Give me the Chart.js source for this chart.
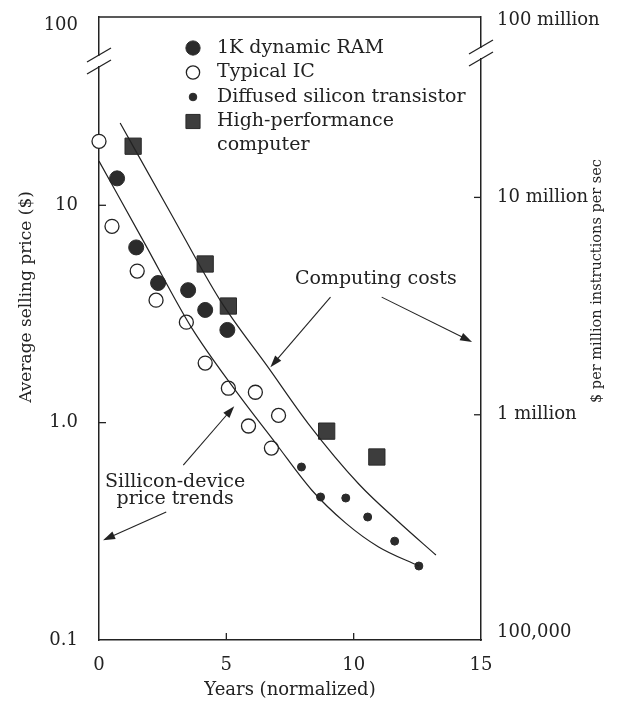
<!DOCTYPE html>
<html>
<head>
<meta charset="utf-8">
<script src="https://cdn.jsdelivr.net/npm/chart.js@4.4.1/dist/chart.umd.min.js"></script>
<style>
  html, body { margin: 0; padding: 0; background: #fff; }
</style>
</head>
<body>
<canvas id="chart" width="636" height="705"></canvas>
<script>
// values (x = normalized years, y = $)
const ramPoints = [[0.71, 13.3], [1.46, 6.4], [2.32, 4.39], [3.5, 4.07], [4.17, 3.3], [5.04, 2.67]];
const icPoints = [[0, 19.7], [0.51, 8.0], [1.5, 4.98], [2.24, 3.66], [3.43, 2.9], [4.17, 1.88],
                  [5.08, 1.44], [6.14, 1.38], [7.05, 1.08], [5.87, 0.965], [6.77, 0.764]];
const transistorPoints = [[7.95, 0.625], [8.7, 0.455], [9.69, 0.45], [10.55, 0.368], [11.61, 0.285], [12.56, 0.219]];
const computerPoints = [[1.34, 18.7], [4.17, 5.37], [5.08, 3.44], [8.94, 0.914], [10.91, 0.695]];

// the two hand-drawn trend curves
const siliconTrend = [[0, 15.97], [1.81, 6.63], [3.62, 2.75], [5.35, 1.41], [6.93, 0.806],
                      [8.35, 0.49], [9.69, 0.345], [10.98, 0.268], [12.56, 0.219]];
const computingTrend = [[0.83, 23.9], [2.8, 9.27], [4.76, 3.65], [6.65, 1.79], [8.23, 0.985],
                        [10.2, 0.522], [11.77, 0.349], [13.23, 0.246]];

// axes (top of each log axis sits past an axis break, so the "100" tick is placed just under the top)
const xTicks = [0, 5, 10, 15];
const yTicks = [0.1, 1, 10, 67.3];
const yTickLabels = ['0.1', '1.0', '10', '100'];
const y1Ticks = [1e5, 1e6, 1e7, 6.5e7];
const y1TickLabels = ['100,000', '1 million', '10 million', '100 million'];

const legendItems = [
  { text: ['1K dynamic RAM'], style: 'ram' },
  { text: ['Typical IC'], style: 'ic' },
  { text: ['Diffused silicon transistor'], style: 'dot' },
  { text: ['High-performance', 'computer'], style: 'sq' }
];

const notes = [
  { lines: ['Computing costs'], at: [10.87, 4.58] },
  { lines: ['Sillicon-device', 'price trends'], at: [2.99, 0.533] }
];
const arrows = [
  { from: [9.09, 3.78], to: [6.73, 1.8] },
  { from: [11.1, 3.78], to: [14.65, 2.35] },
  { from: [3.31, 0.638], to: [5.31, 1.19] },
  { from: [2.64, 0.388], to: [0.16, 0.288] }
];

const ink = '#222';
const serif = "'DejaVu Serif', serif";
const toXY = arr => arr.map(p => ({ x: p[0], y: p[1] }));

const markStyles = {
  ram: { pointStyle: 'circle', radius: 7.5, fill: '#2b2b2b', stroke: '#2b2b2b', bw: 1 },
  ic: { pointStyle: 'circle', radius: 7, fill: '#fff', stroke: ink, bw: 1.3 },
  dot: { pointStyle: 'circle', radius: 4, fill: '#2b2b2b', stroke: '#2b2b2b', bw: 1 },
  sq: { pointStyle: 'rect', radius: 11.5, fill: '#3d3d3d', stroke: '#2a2a2a', bw: 1 }
};

function pointSet(label, pts, key) {
  const s = markStyles[key];
  return {
    label: label,
    data: toXY(pts),
    pointStyle: s.pointStyle,
    pointRadius: s.radius,
    pointBackgroundColor: s.fill,
    pointBorderColor: s.stroke,
    pointBorderWidth: s.bw,
    showLine: false,
    clip: false
  };
}

function curveSet(label, pts) {
  return {
    label: label,
    data: toXY(pts),
    showLine: true,
    pointRadius: 0,
    borderColor: ink,
    borderWidth: 1.2,
    cubicInterpolationMode: 'monotone',
    clip: false
  };
}

function drawArrow(ctx, x1, y1, x2, y2) {
  const a = Math.atan2(y2 - y1, x2 - x1);
  ctx.beginPath();
  ctx.moveTo(x1, y1);
  ctx.lineTo(x2 - 6 * Math.cos(a), y2 - 6 * Math.sin(a));
  ctx.stroke();
  ctx.beginPath();
  ctx.moveTo(x2, y2);
  ctx.lineTo(x2 - 12 * Math.cos(a) + 4 * Math.sin(a), y2 - 12 * Math.sin(a) - 4 * Math.cos(a));
  ctx.lineTo(x2 - 12 * Math.cos(a) - 4 * Math.sin(a), y2 - 12 * Math.sin(a) + 4 * Math.cos(a));
  ctx.closePath();
  ctx.fill();
}

// "//" mark where the axis is broken
function axisBreak(ctx, x, y) {
  ctx.fillStyle = '#fff';
  ctx.fillRect(x - 3, y - 5, 6, 10);
  ctx.strokeStyle = ink;
  ctx.lineWidth = 1.3;
  [-6, 6].forEach(off => {
    ctx.beginPath();
    ctx.moveTo(x - 12, y + off + 7);
    ctx.lineTo(x + 12, y + off - 7);
    ctx.stroke();
  });
}

const decor = {
  id: 'decor',
  afterDraw(chart) {
    const { ctx, chartArea: a, scales } = chart;
    const sx = scales.x, sy = scales.y, sy1 = scales.y1;
    ctx.save();
    ctx.strokeStyle = ink;
    ctx.fillStyle = ink;

    // top frame line
    ctx.lineWidth = 1.5;
    ctx.beginPath();
    ctx.moveTo(a.left, a.top);
    ctx.lineTo(a.right, a.top);
    ctx.stroke();

    // inward tick marks
    ctx.lineWidth = 1.3;
    [5, 10].forEach(v => {
      const px = sx.getPixelForValue(v);
      ctx.beginPath(); ctx.moveTo(px, a.bottom); ctx.lineTo(px, a.bottom - 7); ctx.stroke();
    });
    [1, 10].forEach(v => {
      const py = sy.getPixelForValue(v);
      ctx.beginPath(); ctx.moveTo(a.left, py); ctx.lineTo(a.left + 7, py); ctx.stroke();
    });
    [1e6, 1e7].forEach(v => {
      const py = sy1.getPixelForValue(v);
      ctx.beginPath(); ctx.moveTo(a.right, py); ctx.lineTo(a.right - 7, py); ctx.stroke();
    });

    // axis breaks
    axisBreak(ctx, a.left, a.top + 44);
    axisBreak(ctx, a.right, a.top + 36);

    // annotations
    ctx.fillStyle = ink;
    ctx.strokeStyle = ink;
    ctx.font = '19px ' + serif;
    ctx.textAlign = 'center';
    ctx.textBaseline = 'middle';
    notes.forEach(n => {
      const px = sx.getPixelForValue(n.at[0]);
      const py = sy.getPixelForValue(n.at[1]);
      n.lines.forEach((t, i) => ctx.fillText(t, px, py + i * 17));
    });
    ctx.lineWidth = 1.1;
    arrows.forEach(r => {
      drawArrow(ctx,
        sx.getPixelForValue(r.from[0]), sy.getPixelForValue(r.from[1]),
        sx.getPixelForValue(r.to[0]), sy.getPixelForValue(r.to[1]));
    });

    // legend
    let row = a.top + 31;
    ctx.textAlign = 'left';
    legendItems.forEach(item => {
      const s = markStyles[item.style];
      ctx.fillStyle = s.fill;
      ctx.strokeStyle = s.stroke;
      ctx.lineWidth = s.bw;
      Chart.helpers.drawPoint(ctx, { pointStyle: s.pointStyle, radius: item.style === 'sq' ? 10 : s.radius * 0.95, rotation: 0, borderWidth: s.bw },
        a.left + 94, row);
      ctx.fillStyle = ink;
      item.text.forEach((t, i) => ctx.fillText(t, a.left + 118, row + i * 23.5));
      row += 24.5 + (item.text.length - 1) * 23.5;
    });

    // side titles
    ctx.fillStyle = ink;
    ctx.textAlign = 'center';
    ctx.font = '17px ' + serif;
    ctx.save();
    ctx.translate(27, 297);
    ctx.rotate(-Math.PI / 2);
    ctx.fillText('Average selling price ($)', 0, 0);
    ctx.restore();
    ctx.font = '14.5px ' + serif;
    ctx.save();
    ctx.translate(597, 281);
    ctx.rotate(-Math.PI / 2);
    ctx.fillText('$ per million instructions per sec', 0, 0);
    ctx.restore();

    ctx.restore();
  }
};

const tickFont = { family: serif, size: 18 };
const noEdgePadY = s => { s.paddingTop = 0; s.paddingBottom = 0; };

new Chart(document.getElementById('chart'), {
  type: 'scatter',
  data: {
    datasets: [
      curveSet('Silicon-device price trend', siliconTrend),
      curveSet('Computing costs', computingTrend),
      pointSet('1K dynamic RAM', ramPoints, 'ram'),
      pointSet('Typical IC', icPoints, 'ic'),
      pointSet('Diffused silicon transistor', transistorPoints, 'dot'),
      pointSet('High-performance computer', computerPoints, 'sq')
    ]
  },
  options: {
    responsive: false,
    animation: false,
    devicePixelRatio: 1,
    events: [],
    layout: { padding: { top: 17 } },
    plugins: { legend: { display: false }, tooltip: { enabled: false } },
    scales: {
      x: {
        type: 'linear',
        min: 0,
        max: 15,
        afterFit: s => { s.height = 65; s.paddingLeft = 0; s.paddingRight = 0; },
        afterBuildTicks: s => { s.ticks = xTicks.map(v => ({ value: v })); },
        grid: { display: false, drawTicks: false },
        border: { display: true, color: ink, width: 1.5 },
        ticks: { font: tickFont, color: ink, padding: 15, maxRotation: 0 },
        title: { display: true, text: 'Years (normalized)', font: tickFont, color: ink, padding: { bottom: 4, top: 0 } }
      },
      y: {
        type: 'logarithmic',
        position: 'left',
        min: 0.1,
        max: 73.5,
        afterFit: s => { s.width = 99; noEdgePadY(s); },
        afterBuildTicks: s => { s.ticks = yTicks.map(v => ({ value: v })); },
        grid: { display: false, drawTicks: false },
        border: { display: true, color: ink, width: 1.5 },
        ticks: {
          font: tickFont, color: ink, padding: 21,
          callback: (v, i) => yTickLabels[i]
        }
      },
      y1: {
        type: 'logarithmic',
        position: 'right',
        min: 9.2e4,
        max: 6.76e7,
        afterFit: s => { s.width = 155; noEdgePadY(s); },
        afterBuildTicks: s => { s.ticks = y1Ticks.map(v => ({ value: v })); },
        grid: { display: false, drawTicks: false },
        border: { display: true, color: ink, width: 1.5 },
        ticks: {
          font: tickFont, color: ink, padding: 16,
          callback: (v, i) => y1TickLabels[i]
        }
      }
    }
  },
  plugins: [decor]
});
</script>
</body>
</html>
